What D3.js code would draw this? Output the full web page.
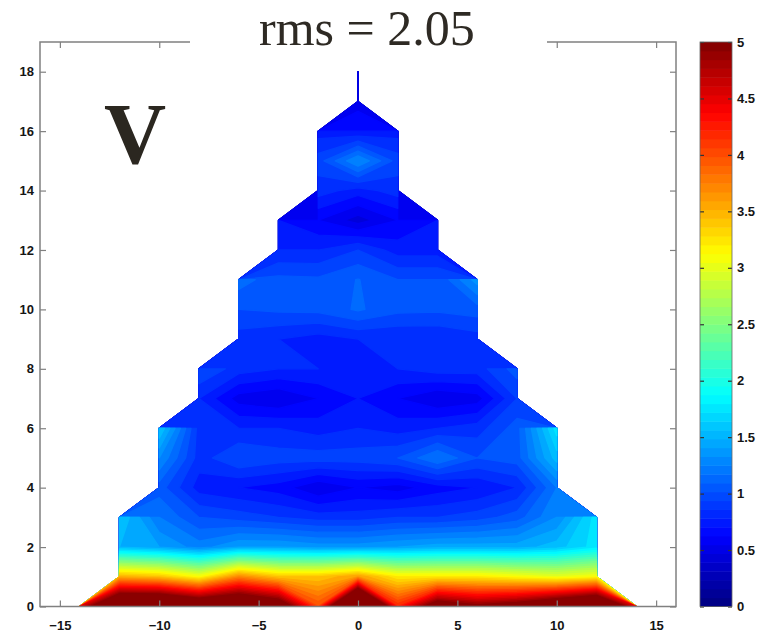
<!DOCTYPE html>
<html>
<head>
<meta charset="utf-8">
<script src="https://cdn.jsdelivr.net/npm/d3@7"></script>
<style>
  html, body { margin: 0; padding: 0; background: #fff; }
  svg { display: block; }
</style>
</head>
<body>
<svg id="chart" width="767" height="634"></svg>
<script>
// grid nodes: x from -14 to 14 (step 2), y from 0 to 18 (step 1)
const xGrid = [-14, -12, -10, -8, -6, -4, -2, 0, 2, 4, 6, 8, 10, 12, 14];
const yGrid = [0, 1, 2, 3, 4, 5, 6, 7, 8, 9, 10, 11, 12, 13, 14, 15, 16, 17, 18];

// values per row, centred on x = 0 (nodes outside the triangle have no data)
const row00 = [4.5, 6.0, 6.0, 5.6, 5.8, 5.4, 4.0, 7.0, 4.2, 5.3, 5.0, 5.2, 5.6, 6.0, 4.5];
const row01 = [3.5, 3.4, 3.1, 3.7, 3.4, 3.4, 3.6, 3.2, 3.2, 3.2, 3.1, 3.0, 3.1];
const row02 = [1.5, 1.4, 1.25, 1.4, 1.4, 1.35, 1.35, 1.4, 1.45, 1.45, 1.45, 1.55, 1.75];
const row03 = [1.6, 1.2, 1.0, 0.95, 0.9, 0.85, 0.85, 0.9, 0.9, 0.95, 1.05, 1.3, 1.75];
const row04 = [1.05, 0.75, 0.7, 0.65, 0.5, 0.6, 0.55, 0.65, 0.7, 0.8, 1.2];
const row05 = [1.3, 0.85, 1.0, 0.95, 0.95, 0.95, 1.0, 1.2, 1.0, 1.05, 1.55];
const row06 = [1.6, 0.85, 0.8, 0.8, 0.75, 0.8, 0.75, 0.8, 0.85, 1.05, 1.75];
const row07 = [0.8, 0.55, 0.5, 0.6, 0.7, 0.6, 0.5, 0.55, 0.9];
const row08 = [1.0, 0.85, 0.8, 0.8, 0.75, 0.8, 0.85, 0.85, 1.05];
const row09 = [0.85, 0.8, 0.75, 0.8, 0.8, 0.8, 0.85];
const row10 = [1.0, 1.02, 1.03, 1.115, 1.03, 1.02, 1.05];
const row11 = [1.15, 1.03, 1.02, 1.105, 1.0, 1.0, 1.35];
const row12 = [0.8, 0.8, 0.9, 0.75, 0.75];
const row13 = [0.7, 0.6, 0.45, 0.6, 0.7];
const row14 = [0.85, 0.75, 0.85];
const row15 = [0.95, 1.3, 0.95];
const row16 = [0.75, 0.7, 0.75];
const row17 = [0.55];
const row18 = [0.6];
const rows = [row00, row01, row02, row03, row04, row05, row06, row07, row08, row09,
  row10, row11, row12, row13, row14, row15, row16, row17, row18];

const xTicks = [-15, -10, -5, 0, 5, 10, 15];
const yTicks = [0, 2, 4, 6, 8, 10, 12, 14, 16, 18];
const cbTicks = [0, 0.5, 1, 1.5, 2, 2.5, 3, 3.5, 4, 4.5, 5];
const levels = d3.range(0, 5, 0.1);
const titleText = "rms = 2.05";
const panelLabel = "V";

const cmin = 0, cmax = 5;

// MATLAB-like jet colormap, t in [0,1]
function jet(t) {
  t = Math.max(0, Math.min(1, t));
  const c = (k) => Math.round(255 * Math.max(0, Math.min(1, 1.5 - Math.abs(4 * t - k))));
  return `rgb(${c(3)},${c(2)},${c(1)})`;
}

const svg = d3.select("#chart");

const x = d3.scaleLinear().domain([-16, 16]).range([40, 676]);
const y = d3.scaleLinear().domain([0, 19]).range([606.5, 42]);

// padded grid, no-data nodes get a very low value so they fall outside every band
const NODATA = -1e6;
const nx = xGrid.length + 2;
const ny = yGrid.length + 2;
const values = new Array(nx * ny).fill(NODATA);
rows.forEach((row, j) => {
  const off = (xGrid.length - row.length) / 2;
  row.forEach((v, k) => {
    values[(j + 1) * nx + (k + off + 1)] = v;
  });
});

const stepX = xGrid[1] - xGrid[0];
const stepY = yGrid[1] - yGrid[0];
const gridToPlot = d3.geoTransform({
  point(cx, cy) {
    this.stream.point(
      x(xGrid[0] + (cx - 1.5) * stepX),
      y(yGrid[0] + (cy - 1.5) * stepY)
    );
  }
});
const path = d3.geoPath(gridToPlot);

const bands = d3.contours().size([nx, ny]).thresholds(levels)(values);

const plot = svg.append("g");
plot.selectAll("path")
  .data(bands)
  .join("path")
  .attr("d", path)
  .attr("fill", (d) => jet((d.value + 0.05 - cmin) / (cmax - cmin)))
  .attr("stroke", (d) => jet((d.value + 0.05 - cmin) / (cmax - cmin)))
  .attr("stroke-width", 1.2)
  .attr("stroke-linejoin", "round");

// axes box with inward ticks on all sides
const axisColor = "#808080";
const labelFont = (sel) => sel
  .attr("font-family", "'Liberation Sans', Arial, sans-serif")
  .attr("font-size", 13)
  .attr("font-weight", "bold")
  .attr("fill", "#151515");

const gx = svg.append("g")
  .attr("transform", `translate(0,${y(0)})`)
  .call(d3.axisBottom(x).tickValues(xTicks).tickSizeInner(-6).tickSizeOuter(0).tickPadding(14.5));
const gxTop = svg.append("g")
  .attr("transform", `translate(0,${y(19)})`)
  .call(d3.axisTop(x).tickValues(xTicks).tickSizeInner(-6).tickSizeOuter(0).tickFormat(""));
const gy = svg.append("g")
  .attr("transform", `translate(${x(-16)},0)`)
  .call(d3.axisLeft(y).tickValues(yTicks).tickSizeInner(-6).tickSizeOuter(0).tickPadding(6));
const gyRight = svg.append("g")
  .attr("transform", `translate(${x(16)},0)`)
  .call(d3.axisRight(y).tickValues(yTicks).tickSizeInner(-6).tickSizeOuter(0).tickFormat(""));

[gx, gxTop, gy, gyRight].forEach((g) => {
  g.select(".domain").remove();
  g.selectAll(".tick line").attr("stroke", axisColor).attr("stroke-width", 1.2);
  g.selectAll(".tick text").call(labelFont);
});

svg.append("rect")
  .attr("x", x(-16))
  .attr("y", y(19))
  .attr("width", x(16) - x(-16))
  .attr("height", y(0) - y(19))
  .attr("fill", "none")
  .attr("stroke", axisColor)
  .attr("stroke-width", 1.5);

// colorbar
const cbX0 = 700, cbX1 = 732;
const cy = d3.scaleLinear().domain([cmin, cmax]).range([606.5, 42]);
const nColors = 64;
svg.append("g")
  .selectAll("rect")
  .data(d3.range(nColors))
  .join("rect")
  .attr("x", cbX0)
  .attr("width", cbX1 - cbX0)
  .attr("y", (i) => cy(cmin + (i + 1) * (cmax - cmin) / nColors))
  .attr("height", (i) => cy(cmin + i * (cmax - cmin) / nColors) - cy(cmin + (i + 1) * (cmax - cmin) / nColors) + 0.5)
  .attr("fill", (i) => jet((i + 0.5) / nColors));

const cbFormat = d3.format("~g");
const cbRight = svg.append("g")
  .attr("transform", `translate(${cbX1},0)`)
  .call(d3.axisRight(cy).tickValues(cbTicks).tickFormat(cbFormat).tickSizeInner(-4).tickSizeOuter(0).tickPadding(5));
const cbLeft = svg.append("g")
  .attr("transform", `translate(${cbX0},0)`)
  .call(d3.axisLeft(cy).tickValues(cbTicks).tickSizeInner(-4).tickSizeOuter(0).tickFormat(""));
[cbRight, cbLeft].forEach((g) => {
  g.select(".domain").remove();
  g.selectAll(".tick line").attr("stroke", "#333").attr("stroke-width", 1.2);
  g.selectAll(".tick text").call(labelFont);
});
svg.append("rect")
  .attr("x", cbX0)
  .attr("y", cy(cmax))
  .attr("width", cbX1 - cbX0)
  .attr("height", cy(cmin) - cy(cmax))
  .attr("fill", "none")
  .attr("stroke", "#666")
  .attr("stroke-width", 0.8);

// title sits on a white box that hides part of the top frame
svg.append("rect")
  .attr("x", 190)
  .attr("y", 0)
  .attr("width", 357)
  .attr("height", 49)
  .attr("fill", "#fff");
svg.append("text")
  .attr("x", 259)
  .attr("y", 45)
  .attr("font-family", "'Liberation Serif', 'Times New Roman', serif")
  .attr("font-size", 50)
  .attr("fill", "#2e2a24")
  .text(titleText);

svg.append("text")
  .attr("x", 104)
  .attr("y", 163)
  .attr("font-family", "'Liberation Serif', 'Times New Roman', serif")
  .attr("font-size", 86)
  .attr("font-weight", "bold")
  .attr("fill", "#2b2720")
  .text(panelLabel);
</script>
</body>
</html>
